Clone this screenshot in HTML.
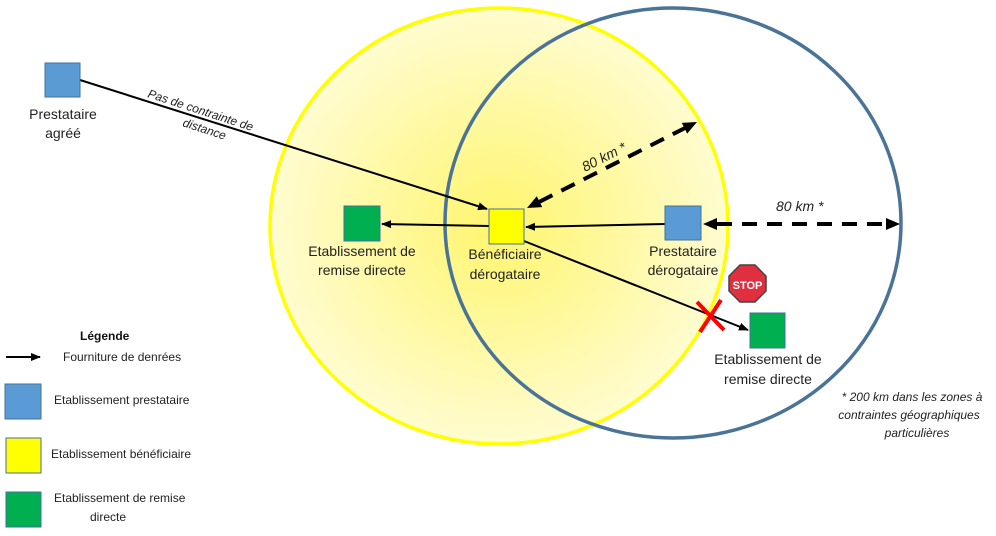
<!DOCTYPE html>
<html><head><meta charset="utf-8"><style>
html,body{margin:0;padding:0;background:#fff;}
svg{display:block;font-family:"Liberation Sans",Calibri,sans-serif;}
</style></head><body>
<svg width="996" height="536" viewBox="0 0 996 536" xmlns="http://www.w3.org/2000/svg">
<defs>
<radialGradient id="yg" cx="0.5" cy="0.5" r="0.5">
<stop offset="0" stop-color="#fff56e"/>
<stop offset="1" stop-color="#fffcd0"/>
</radialGradient>
<marker id="ah" markerWidth="10" markerHeight="8" refX="9" refY="4" orient="auto" markerUnits="userSpaceOnUse">
<path d="M0,0 L10,4 L0,8 z" fill="#000"/>
</marker>
</defs>
<ellipse cx="499" cy="226" rx="229" ry="218" fill="url(#yg)" stroke="#ffff00" stroke-width="3.5"/>
<ellipse cx="673" cy="223" rx="228" ry="215" fill="none" stroke="#4a7398" stroke-width="3.5"/>

<line x1="80" y1="80" x2="487" y2="209" stroke="#000" stroke-width="2" marker-end="url(#ah)"/>
<line x1="489" y1="226" x2="382" y2="224" stroke="#000" stroke-width="2" marker-end="url(#ah)"/>
<line x1="665" y1="224" x2="526" y2="227" stroke="#000" stroke-width="2" marker-end="url(#ah)"/>
<line x1="524" y1="241" x2="748" y2="330" stroke="#000" stroke-width="2" marker-end="url(#ah)"/>

<line x1="539" y1="202" x2="685" y2="128" stroke="#000" stroke-width="4" stroke-dasharray="15,10"/>
<polygon points="697,122 687.2,133.6 681.8,122.9" fill="#000"/>
<polygon points="527,208 542.2,207.1 536.8,196.3" fill="#000"/>
<line x1="717" y1="224" x2="886" y2="224" stroke="#000" stroke-width="4" stroke-dasharray="15,10"/>
<polygon points="703,224 717,218 717,230" fill="#000"/>
<polygon points="900,224 886,218 886,230" fill="#000"/>

<rect x="45" y="63" width="35" height="34" fill="#5b9bd5" stroke="#41719c" stroke-width="1"/>
<rect x="344" y="206" width="36" height="35" fill="#00b050" stroke="#41719c" stroke-width="1"/>
<rect x="489" y="209" width="35" height="35" fill="#ffff00" stroke="#41719c" stroke-width="1"/>
<rect x="665" y="206" width="36" height="34" fill="#5b9bd5" stroke="#41719c" stroke-width="1"/>
<rect x="750" y="313" width="35" height="35" fill="#00b050" stroke="#41719c" stroke-width="1"/>

<line x1="697" y1="302" x2="724" y2="330" stroke="#ff0000" stroke-width="4"/>
<line x1="721" y1="300" x2="700" y2="332" stroke="#ff0000" stroke-width="4"/>

<polygon points="740,265 755,265 766,276 766,291 755,302 740,302 729,291 729,276" fill="#e03040" stroke="#444" stroke-width="1.5"/>
<text x="747.5" y="289" font-size="11" font-weight="bold" fill="#fff" text-anchor="middle">STOP</text>

<g font-size="14" fill="#222" text-anchor="middle">
<text x="63" y="119">Prestataire</text><text x="63" y="138">agréé</text>
<text x="362" y="256">Etablissement de</text><text x="362" y="275">remise directe</text>
<text x="505" y="259">Bénéficiaire</text><text x="505" y="279">dérogataire</text>
<text x="683" y="256">Prestataire</text><text x="683" y="275">dérogataire</text>
<text x="768" y="364">Etablissement de</text><text x="768" y="384">remise directe</text>
</g>
<g font-size="12" font-style="italic" fill="#222">
<text transform="translate(147,97) rotate(18)">Pas de contrainte de</text>
<text transform="translate(182,126) rotate(18)">distance</text>
<text font-size="14" transform="translate(585,172) rotate(-27)">80 km *</text>
<text font-size="14" x="776" y="211">80 km *</text>
<g text-anchor="middle" font-size="12">
<text x="912" y="401">* 200 km dans les zones à</text>
<text x="909" y="419">contraintes géographiques</text>
<text x="917" y="437">particulières</text>
</g>
</g>

<text x="80" y="340" font-size="12" font-weight="bold" fill="#111">Légende</text>
<line x1="6" y1="357" x2="40" y2="357" stroke="#000" stroke-width="2" marker-end="url(#ah)"/>
<g font-size="12" fill="#222">
<text x="63" y="361">Fourniture de denrées</text>
<text x="54" y="404">Etablissement prestataire</text>
<text x="51" y="458">Etablissement bénéficiaire</text>
<text x="54" y="502">Etablissement de remise</text>
<text x="108" y="521" text-anchor="middle">directe</text>
</g>
<rect x="5" y="384" width="36" height="35" fill="#5b9bd5" stroke="#41719c"/>
<rect x="6" y="438" width="35" height="35" fill="#ffff00" stroke="#41719c"/>
<rect x="6" y="492" width="35" height="35" fill="#00b050" stroke="#41719c"/>
</svg>
</body></html>
